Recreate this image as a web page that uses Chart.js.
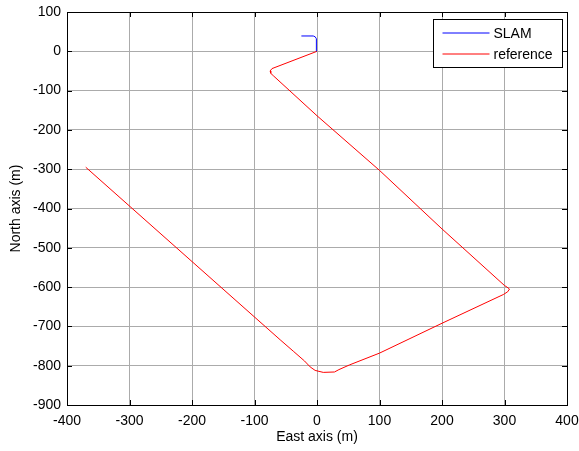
<!DOCTYPE html>
<html>
<head>
<meta charset="utf-8">
<script src="https://cdn.jsdelivr.net/npm/chart.js@4.4.1/dist/chart.umd.min.js"></script>
<style>
  html, body { margin: 0; padding: 0; background: #fff; }
  #wrap { width: 579px; height: 451px; }
</style>
</head>
<body>
<div id="wrap"><canvas id="traj"></canvas></div>
<script>
// ---- DATA ----
const refEast  = [0, -72, -75, -74, -70, 0, 100, 200, 300, 304, 308, 305, 298, 200, 100, 52, 35, 28, 10, -3, -11, -20, -38, -59, -200, -370];
const refNorth = [0, -44, -50, -56, -62, -164, -303, -452, -596, -600, -605, -612, -619, -692, -768, -798, -810, -816, -817, -812, -803, -788, -763, -734, -535, -295];

const slamEast  = [-1, -1, -3, -6, -25];
const slamNorth = [0, 32, 37, 39, 39];

const xTicks = [-400, -300, -200, -100, 0, 100, 200, 300, 400];
const yTicks = [100, 0, -100, -200, -300, -400, -500, -600, -700, -800, -900];

const FONT = 'Arial, "Liberation Sans", sans-serif';

const toPts = (xs, ys) => xs.map((x, i) => ({ x, y: ys[i] }));

// ---- frame, inward ticks and legend, MATLAB style ----
const framePlugin = {
  id: 'frame',
  afterDraw(chart) {
    const { ctx, chartArea: a, scales } = chart;
    ctx.save();
    ctx.strokeStyle = '#000';
    ctx.lineWidth = 1;
    ctx.strokeRect(Math.round(a.left) + 0.5, Math.round(a.top) + 0.5,
      Math.round(a.right - a.left), Math.round(a.bottom - a.top));

    const tl = 5;
    ctx.beginPath();
    xTicks.forEach(v => {
      const px = Math.round(scales.x.getPixelForValue(v)) + 0.5;
      ctx.moveTo(px, a.bottom); ctx.lineTo(px, a.bottom - tl);
      ctx.moveTo(px, a.top); ctx.lineTo(px, a.top + tl);
    });
    yTicks.forEach(v => {
      const py = Math.round(scales.y.getPixelForValue(v)) + 0.5;
      ctx.moveTo(a.left, py); ctx.lineTo(a.left + tl, py);
      ctx.moveTo(a.right, py); ctx.lineTo(a.right - tl, py);
    });
    ctx.stroke();

    // legend box
    const lx = Math.round(a.right - 134) + 0.5, ly = Math.round(a.top + 7) + 0.5;
    ctx.fillStyle = '#fff';
    ctx.fillRect(lx, ly, 129, 48);
    ctx.strokeRect(lx, ly, 129, 48);
    ctx.font = '14px ' + FONT;
    ctx.textBaseline = 'middle';
    chart.data.datasets.forEach((ds, i) => {
      const yy = Math.round(ly + 13 + i * 21);
      ctx.strokeStyle = ds.borderColor;
      ctx.beginPath();
      ctx.moveTo(lx + 9, yy); ctx.lineTo(lx + 56, yy);
      ctx.stroke();
      ctx.fillStyle = '#000';
      ctx.fillText(ds.label, lx + 60, yy + 1);
    });
    ctx.restore();
  },
};

const axisTitle = (text, padding) => ({
  display: true, text, color: '#000', padding,
  font: { family: FONT, size: 14 },
});

new Chart(document.getElementById('traj').getContext('2d'), {
  type: 'scatter',
  data: {
    datasets: [
      { label: 'SLAM', data: toPts(slamEast, slamNorth), borderColor: '#0000ff', showLine: true, borderWidth: 1, pointRadius: 0, tension: 0 },
      { label: 'reference', data: toPts(refEast, refNorth), borderColor: '#ff0000', showLine: true, borderWidth: 1, pointRadius: 0, tension: 0 },
    ],
  },
  options: {
    responsive: true,
    maintainAspectRatio: false,
    animation: false,
    layout: { padding: { top: 12, right: 12, left: 0, bottom: 0 } },
    plugins: { legend: { display: false }, tooltip: { enabled: false } },
    scales: {
      x: {
        type: 'linear', min: -400, max: 400,
        afterBuildTicks: s => { s.ticks = xTicks.map(v => ({ value: v })); },
        afterFit: s => { s.height = 46; s.paddingLeft = 0; s.paddingRight = 0; },
        grid: { color: '#ababab', drawTicks: false },
        border: { display: false },
        ticks: { color: '#000', padding: 8, font: { family: FONT, size: 14 } },
        title: axisTitle('East axis (m)', { top: 0, bottom: 5 }),
      },
      y: {
        type: 'linear', min: -900, max: 100,
        afterBuildTicks: s => { s.ticks = yTicks.map(v => ({ value: v })); },
        afterFit: s => { s.width = 67; s.paddingTop = 0; s.paddingBottom = 0; },
        grid: { color: '#ababab', drawTicks: false },
        border: { display: false },
        ticks: { color: '#000', padding: 6, font: { family: FONT, size: 14 } },
        title: axisTitle('North axis (m)', { top: 8, bottom: 0 }),
      },
    },
  },
  plugins: [framePlugin],
});
</script>
</body>
</html>
